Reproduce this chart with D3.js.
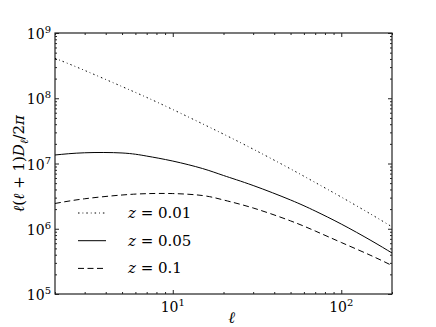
<!DOCTYPE html>
<html>
<head>
<meta charset="utf-8">
<script src="https://cdn.jsdelivr.net/npm/d3@7"></script>
<style>
  body { margin: 0; background: #fff; }
  svg text { fill: #000; }
  .axis path { stroke: none; }
  .axis line { stroke: #222; stroke-width: 1; }
  .curve { fill: none; stroke: #000; stroke-width: 1; }
</style>
</head>
<body>
<div id="chart"></div>
<script>
// multipoles
var ells = [2, 3, 5, 7, 10, 15, 20, 30, 50, 70, 100, 150, 200];

// l(l+1)D_l/2pi for each redshift
var powZ001 = [4.10e8, 2.67e8, 1.51e8, 1.03e8, 6.72e7, 4.06e7, 2.82e7, 1.66e7, 8.26e6, 5.12e6, 3.06e6, 1.67e6, 1.07e6];
var powZ005 = [1.35e7, 1.46e7, 1.45e7, 1.30e7, 1.09e7, 8.38e6, 6.55e6, 4.60e6, 2.76e6, 1.87e6, 1.18e6, 6.61e5, 4.25e5];
var powZ01  = [2.44e6, 2.88e6, 3.29e6, 3.45e6, 3.46e6, 3.23e6, 2.76e6, 2.08e6, 1.32e6, 9.24e5, 6.16e5, 3.89e5, 2.73e5];

var seriesNames = ["0.01", "0.05", "0.1"];
var seriesDash = ["1.5,3,0.8,3", null, "6,3.5"];

// tick labels (exponents of ten)
var xTickExps = [1, 2];
var yTickExps = [5, 6, 7, 8, 9];

// plot box ("top" is taken on window, so keep it in an object)
var box = {left: 55, right: 392, top: 33, bottom: 294},
    outerWidth = 436,
    outerHeight = 327,
    serif = "DejaVu Serif, serif";

var svg = d3.select("#chart").append("svg")
    .attr("width", outerWidth)
    .attr("height", outerHeight)
    .style("font-family", serif);

var xScale = d3.scaleLog().domain([2, 200]).range([box.left, box.right]);
var yScale = d3.scaleLog().domain([1e5, 1e9]).range([box.bottom, box.top]);

// minor / major tick positions
var xMajor = xTickExps.map(e => Math.pow(10, e));
var xMinor = [];
[1, 10, 100].forEach(function(b) {
  for (var k = 2; k <= 9; k++) {
    var v = b * k;
    if (v >= 2 && v <= 200) xMinor.push(v);
  }
});
var yMajor = yTickExps.map(e => Math.pow(10, e));
var yMinor = [];
[1e5, 1e6, 1e7, 1e8].forEach(function(b) {
  for (var k = 2; k <= 9; k++) yMinor.push(b * k);
});

function addAxis(axisFn, scale, vals, size, tr) {
  return svg.append("g")
      .attr("class", "axis")
      .attr("transform", tr)
      .call(axisFn(scale).tickValues(vals).tickSize(size).tickFormat(""));
}

// ticks point inward on all four sides
addAxis(d3.axisBottom, xScale, xMinor, -2, "translate(0," + box.bottom + ")");
addAxis(d3.axisBottom, xScale, xMajor, -4, "translate(0," + box.bottom + ")");
addAxis(d3.axisTop, xScale, xMinor, -2, "translate(0," + box.top + ")");
addAxis(d3.axisTop, xScale, xMajor, -4, "translate(0," + box.top + ")");
addAxis(d3.axisLeft, yScale, yMinor, -2, "translate(" + box.left + ",0)");
addAxis(d3.axisLeft, yScale, yMajor, -4, "translate(" + box.left + ",0)");
addAxis(d3.axisRight, yScale, yMinor, -2, "translate(" + box.right + ",0)");
addAxis(d3.axisRight, yScale, yMajor, -4, "translate(" + box.right + ",0)");

// frame
svg.append("rect")
    .attr("x", box.left)
    .attr("y", box.top)
    .attr("width", box.right - box.left)
    .attr("height", box.bottom - box.top)
    .attr("fill", "none")
    .attr("stroke", "#222")
    .attr("stroke-width", 1.2);

// tick labels with superscript exponents
xTickExps.forEach(function(e) {
  var t = svg.append("text")
      .attr("x", xScale(Math.pow(10, e)))
      .attr("y", box.bottom + 18)
      .attr("text-anchor", "middle")
      .style("font-size", "14px");
  t.append("tspan").text("10");
  t.append("tspan").attr("dy", -6).style("font-size", "10px").text(e);
});

yTickExps.forEach(function(e) {
  var t = svg.append("text")
      .attr("x", box.left - 4)
      .attr("y", yScale(Math.pow(10, e)) + 6)
      .attr("text-anchor", "end")
      .style("font-size", "14px");
  t.append("tspan").text("10");
  t.append("tspan").attr("dy", -6).style("font-size", "10px").text(e);
});

// axis labels
svg.append("text")
    .attr("x", (box.left + box.right) / 2 + 8)
    .attr("y", 323)
    .attr("text-anchor", "middle")
    .style("font-size", "16px")
    .style("font-style", "italic")
    .text("ℓ");

var yLab = svg.append("text")
    .attr("transform", "translate(24," + ((box.top + box.bottom) / 2) + ") rotate(-90)")
    .attr("text-anchor", "middle")
    .style("font-size", "15px");
yLab.append("tspan").style("font-style", "italic").text("ℓ");
yLab.append("tspan").text("(");
yLab.append("tspan").style("font-style", "italic").text("ℓ");
yLab.append("tspan").text(" + 1)");
yLab.append("tspan").style("font-style", "italic").text("D");
yLab.append("tspan").attr("dy", 4).style("font-size", "11px").style("font-style", "italic").text("ℓ");
yLab.append("tspan").attr("dy", -4).text("/2");
yLab.append("tspan").style("font-style", "italic").text("π");

// curves, smooth in log-log space
var line = d3.line()
    .x((d, i) => xScale(ells[i]))
    .y(d => yScale(d))
    .curve(d3.curveNatural);

[powZ001, powZ005, powZ01].forEach(function(vals, i) {
  svg.append("path")
      .datum(vals)
      .attr("class", "curve")
      .attr("stroke-dasharray", seriesDash[i])
      .attr("d", line);
});

// legend
var legend = svg.append("g").attr("transform", "translate(78,213)");
seriesNames.forEach(function(name, i) {
  var g = legend.append("g").attr("transform", "translate(0," + (i * 27.7) + ")");
  g.append("line")
      .attr("class", "curve")
      .attr("x1", 0).attr("x2", 28)
      .attr("y1", 0).attr("y2", 0)
      .attr("stroke-dasharray", seriesDash[i]);
  var t = g.append("text")
      .attr("x", 50)
      .attr("y", 5)
      .style("font-size", "15px");
  t.append("tspan").style("font-style", "italic").text("z");
  t.append("tspan").text(" = " + name);
});
</script>
</body>
</html>
